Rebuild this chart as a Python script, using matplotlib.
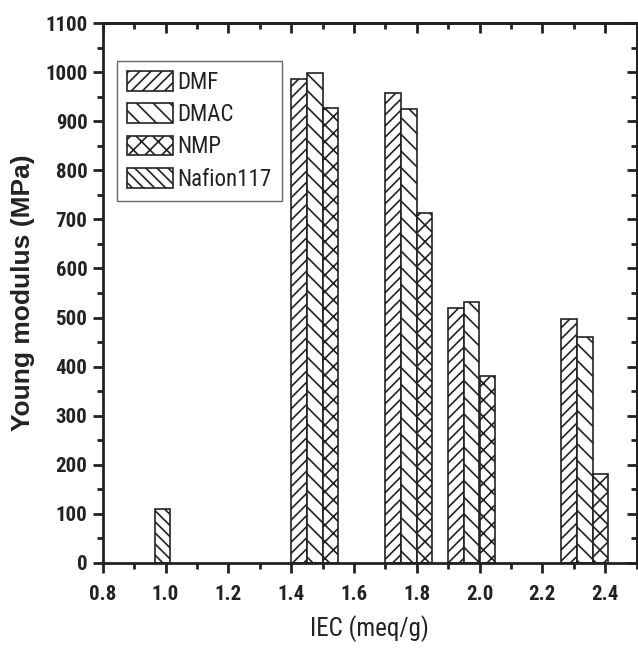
import matplotlib
matplotlib.use("Agg")
import matplotlib.pyplot as plt
from matplotlib.ticker import MultipleLocator, FormatStrFormatter

# IEC groups (left edge of first bar) and values
iec = [1.40, 1.70, 1.90, 2.26]
dmf = [987, 957, 520, 497]
dmac = [999, 925, 531, 460]
nmp = [928, 713, 381, 181]
nafion_iec = [0.965]
nafion = [109]

plt.rcParams['hatch.linewidth'] = 1.2
cond = ['Roboto Condensed', 'DejaVu Sans']
ink = '#222222'

fig = plt.figure(figsize=(6.38, 6.51), dpi=100)
ax = fig.add_axes([102.7/638, (651-562.7)/651, (636.5-102.7)/638, (562.7-23.3)/651])

w = 0.05
kw = dict(width=w, align='edge', color='white', edgecolor=ink, linewidth=1.2)
ax.bar(iec, dmf, hatch='///', label='DMF', **kw)
ax.bar([x + w for x in iec], dmac, hatch='\\\\', label='DMAC', **kw)
ax.bar([x + 2*w for x in iec], nmp, hatch='xx', label='NMP', **kw)
ax.bar(nafion_iec, nafion, hatch='\\\\\\', label='Nafion117', **kw)

ax.set_xlim(0.8, 2.5)
ax.set_ylim(0, 1100)
ax.xaxis.set_major_locator(MultipleLocator(0.2))
ax.xaxis.set_minor_locator(MultipleLocator(0.1))
ax.yaxis.set_major_locator(MultipleLocator(100))
ax.yaxis.set_minor_locator(MultipleLocator(50))
ax.xaxis.set_major_formatter(FormatStrFormatter('%.1f'))

for s in ax.spines.values():
    s.set_linewidth(2)
    s.set_color(ink)

ax.tick_params(which='both', direction='out', top=False, right=False, width=2, color=ink)
ax.tick_params(which='major', length=7)
ax.tick_params(which='minor', length=4)
ax.tick_params(axis='both', labelsize=15)
ax.tick_params(axis='x', pad=9)
ax.tick_params(axis='y', pad=4)
for lab in ax.get_xticklabels() + ax.get_yticklabels():
    lab.set_family(cond)
    lab.set_fontweight('bold')
    lab.set_color(ink)

# inward ticks on top and right
sec_x = ax.secondary_xaxis('top')
sec_x.xaxis.set_major_locator(MultipleLocator(0.2))
sec_x.xaxis.set_minor_locator(MultipleLocator(0.1))
sec_x.tick_params(which='both', direction='in', width=2, labeltop=False, color=ink)
sec_x.tick_params(which='major', length=7)
sec_x.tick_params(which='minor', length=4)
sec_y = ax.secondary_yaxis('right')
sec_y.yaxis.set_major_locator(MultipleLocator(100))
sec_y.yaxis.set_minor_locator(MultipleLocator(50))
sec_y.tick_params(which='both', direction='in', width=2, labelright=False, color=ink)
sec_y.tick_params(which='major', length=7)
sec_y.tick_params(which='minor', length=4)
for s in list(sec_x.spines.values()) + list(sec_y.spines.values()):
    s.set_linewidth(2)
    s.set_color(ink)

ax.set_xlabel('IEC (meq/g)', fontsize=18, family=cond, color=ink, labelpad=8)
ax.set_ylabel('Young modulus (MPa)', fontsize=19, fontweight='bold',
              family=['Liberation Sans', 'DejaVu Sans'], color=ink, labelpad=7)

leg = ax.legend(loc='upper left', bbox_to_anchor=((117-102.7)/533.8, (562.7-60.7)/539.4),
                prop={'family': cond, 'size': 16.5}, frameon=True, fancybox=False,
                handlelength=2.0, handleheight=0.95, handletextpad=0.2, labelspacing=0.4,
                borderpad=0.45, borderaxespad=0)
leg.get_frame().set_edgecolor('#444444')
leg.get_frame().set_linewidth(1.0)
for t in leg.get_texts():
    t.set_color(ink)

fig.savefig('out.png', dpi=100)
